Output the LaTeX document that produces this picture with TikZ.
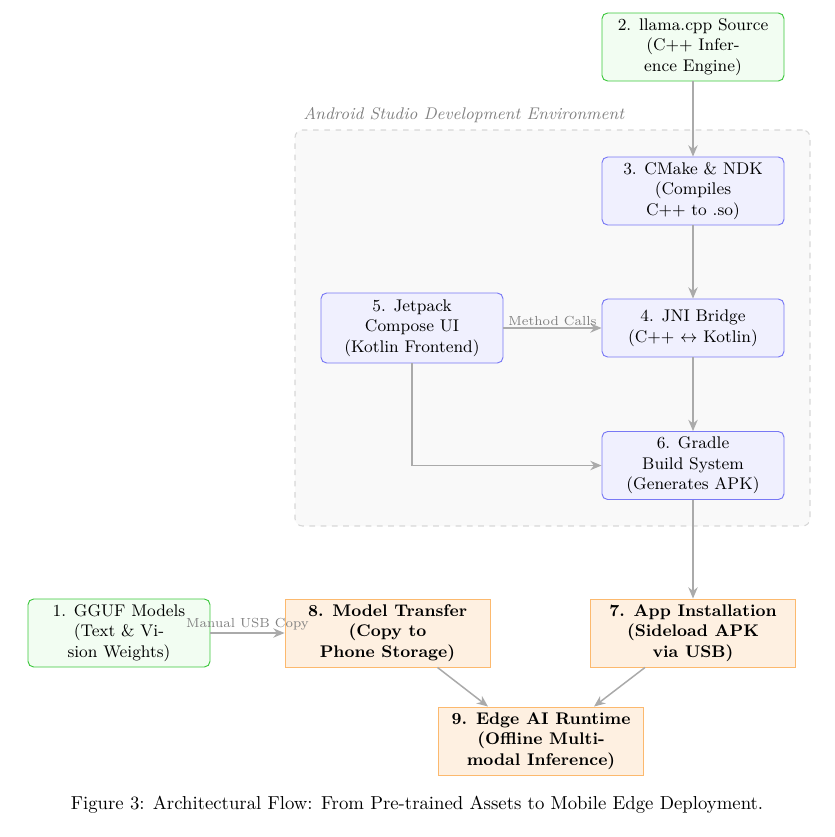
\documentclass[tikz,border=0pt]{standalone}
\usetikzlibrary{arrows.meta,positioning,calc}
\definecolor{edgegray}{RGB}{170,170,170}
\definecolor{envfill}{RGB}{249,249,249}
\definecolor{envdraw}{RGB}{215,215,215}
\definecolor{greendraw}{RGB}{60,200,60}
\definecolor{greenfill}{RGB}{242,253,242}
\definecolor{bluedraw}{RGB}{120,120,245}
\definecolor{bluefill}{RGB}{240,240,254}
\definecolor{orangedraw}{RGB}{252,185,110}
\definecolor{orangefill}{RGB}{254,240,225}
\tikzset{
  base/.style={align=center, font=\small, inner sep=2pt, line width=0.5pt},
  greenbox/.style={base, draw=greendraw, fill=greenfill, rounded corners=3pt, minimum width=182*0.5333pt, minimum height=68*0.5333pt},
  bluebox/.style={base, draw=bluedraw, fill=bluefill, rounded corners=3pt, minimum width=182*0.5333pt, minimum height=68*0.5333pt},
  orangebox/.style={base, draw=orangedraw, fill=orangefill, font=\small\bfseries, minimum width=205*0.5333pt, minimum height=68*0.5333pt},
  arr/.style={draw=edgegray, line width=0.8pt, -{Stealth[length=6pt,width=5pt]}},
  elabel/.style={font=\scriptsize, text=gray}
}
\begin{document}
\begin{tikzpicture}[x=0.5333pt,y=-0.5333pt]
\useasboundingbox (0,0) rectangle (834,837);
% environment
\node[draw=envdraw, fill=envfill, dashed, rounded corners=4pt, line width=0.6pt,
      minimum width=515*0.5333pt, minimum height=396*0.5333pt] (env) at (552.5,328) {};
\node[anchor=west, font=\small\itshape, text=gray, inner sep=0pt] (envlabel) at (303,115) {Android Studio Development Environment};
% nodes
\node[greenbox] (n2) at (693,47) {2. llama.cpp Source\\(C++ Infer-\\ence Engine)};
\node[bluebox] (n3) at (693,191) {3. CMake \& NDK\\(Compiles\\C++ to .so)};
\node[bluebox, minimum height=58*0.5333pt] (n4) at (693,328) {4. JNI Bridge\\(C++ $\leftrightarrow$ Kotlin)};
\node[bluebox, minimum height=70*0.5333pt] (n5) at (412,328) {5. Jetpack\\Compose UI\\(Kotlin Frontend)};
\node[bluebox] (n6) at (693,465.5) {6. Gradle\\Build System\\(Generates APK)};
\node[greenbox] (n1) at (119,633) {1. GGUF Models\\(Text \& Vi-\\sion Weights)};
\node[orangebox] (n8) at (387.5,633) {8. Model Transfer\\(Copy to\\Phone Storage)};
\node[orangebox] (n7) at (693,633) {7. App Installation\\(Sideload APK\\via USB)};
\node[orangebox] (n9) at (541,741) {9. Edge AI Runtime\\(Offline Multi-\\modal Inference)};
% edges
\draw[arr] (n2) -- (n3);
\draw[arr] (n3) -- (n4);
\draw[arr] (n5) -- node[elabel, above, inner sep=1pt] {Method Calls} (n4);
\draw[arr] (n4) -- (n6);
\draw[arr] (n5.south) |- (n6.west);
\draw[arr] (n6) -- (n7);
\draw[arr] (n1) -- node[elabel, above, inner sep=1pt] {Manual USB Copy} (n8);
\draw[arr] ($(n8.south)+(50,0)$) -- ($(n9.north)+(-53,0)$);
\draw[arr] ($(n7.south)+(-48,0)$) -- ($(n9.north)+(53,0)$);
% caption
\node[font=\normalsize] (cap) at (417,805) {Figure 3: Architectural Flow: From Pre-trained Assets to Mobile Edge Deployment.};
\end{tikzpicture}
\end{document}
